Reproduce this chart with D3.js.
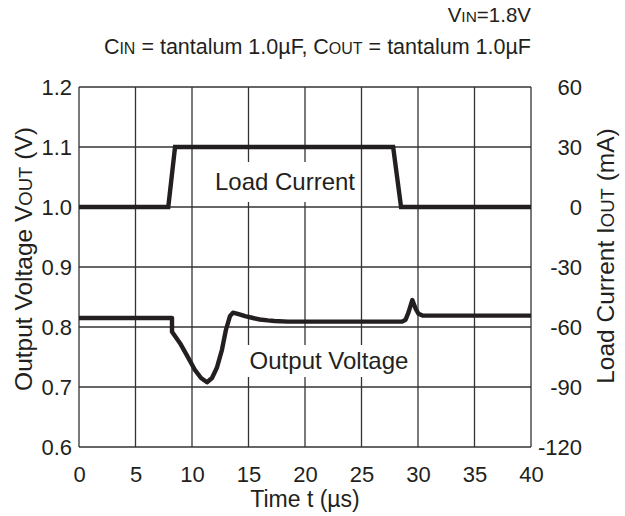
<!DOCTYPE html>
<html>
<head>
<meta charset="utf-8">
<script src="https://cdn.jsdelivr.net/npm/d3@7"></script>
<style>
  html, body { margin: 0; padding: 0; background: #fff; }
  svg text { font-family: "Liberation Sans", Arial, sans-serif; fill: #231f20; }
</style>
</head>
<body>
<svg id="chart" width="625" height="516"></svg>
<script>
// Time ticks (µs) and axis ticks
const timeTicks = [0, 5, 10, 15, 20, 25, 30, 35, 40];
const voltTicks = [0.6, 0.7, 0.8, 0.9, 1.0, 1.1, 1.2];
const currentTicks = [-120, -90, -60, -30, 0, 30, 60];

// Load current step (mA) vs time (µs)
const loadTime    = [0, 7.9, 8.5, 27.8, 28.5, 40];
const loadCurrent = [0, 0,   30,  30,   0,    0];

// Output voltage (V) vs time (µs)
const voutTime = [0, 8.23, 8.23, 8.94, 9.6, 10.27, 10.8, 11.33, 11.77, 12.2, 12.65, 13.0, 13.36, 13.63,
                  14.2, 14.7, 15.4, 16.0, 16.7, 17.3, 18.5, 28.6, 28.9, 29.15, 29.5, 29.8, 30.05, 30.4, 31.0, 40];
const voutValue = [0.815, 0.815, 0.792, 0.773, 0.751, 0.728, 0.715, 0.708, 0.715, 0.732, 0.762, 0.795, 0.818, 0.824,
                   0.821, 0.818, 0.815, 0.8125, 0.811, 0.810, 0.809, 0.809, 0.812, 0.824, 0.845, 0.83, 0.822, 0.819, 0.819, 0.819];

const svg = d3.select("#chart");
const M = { left: 79, right: 531, top: 87, bottom: 447 };

const x = d3.scaleLinear().domain([0, 40]).range([M.left, M.right]);
const yV = d3.scaleLinear().domain([0.6, 1.2]).range([M.bottom, M.top]);
const yI = d3.scaleLinear().domain([-120, 60]).range([M.bottom, M.top]);

const ink = "#231f20";
const tickFont = 22;

// Grid and frame
const grid = svg.append("g").attr("stroke", "#333").attr("stroke-width", 1.3);
grid.selectAll("line.v").data(timeTicks).join("line")
  .attr("x1", d => x(d)).attr("x2", d => x(d))
  .attr("y1", M.top).attr("y2", M.bottom);
grid.selectAll("line.h").data(voltTicks).join("line")
  .attr("x1", M.left).attr("x2", M.right)
  .attr("y1", d => yV(d)).attr("y2", d => yV(d));

// Axes (labels only; the frame comes from the grid)
const axL = d3.axisLeft(yV).tickValues(voltTicks).tickFormat(d3.format(".1f")).tickSize(0).tickPadding(7);
const axR = d3.axisRight(yI).tickValues(currentTicks).tickFormat(d => String(d)).tickSize(0).tickPadding(0);
const axB = d3.axisBottom(x).tickValues(timeTicks).tickFormat(d => String(d)).tickSize(0).tickPadding(19);

function styleAxis(g) {
  g.select(".domain").remove();
  g.selectAll("text").attr("font-size", tickFont).attr("fill", ink)
    .style("font-family", "'Liberation Sans', Arial, sans-serif");
}
svg.append("g").attr("transform", `translate(${M.left},0)`).call(axL).call(styleAxis);
svg.append("g").attr("transform", `translate(582,0)`).call(axR).call(styleAxis)
  .selectAll("text").attr("text-anchor", "end");
svg.append("g").attr("transform", `translate(0,${M.bottom})`).call(axB).call(styleAxis);

// In-plot labels with white backing
function plotLabel(text, cx, cy, w, h) {
  svg.append("rect").attr("x", cx - w / 2).attr("y", cy - h / 2)
    .attr("width", w).attr("height", h).attr("fill", "#fff");
  svg.append("text").attr("x", cx).attr("y", cy).attr("dy", "0.35em")
    .attr("text-anchor", "middle").attr("font-size", 24).text(text);
}
plotLabel("Load Current", 285, 182, 148, 40);
plotLabel("Output Voltage", 329, 361, 168, 32);

// Traces
const lineI = d3.line().x((d, i) => x(loadTime[i])).y(d => yI(d));
const lineV = d3.line().x((d, i) => x(voutTime[i])).y(d => yV(d));

svg.append("path").datum(loadCurrent).attr("d", lineI)
  .attr("fill", "none").attr("stroke", ink).attr("stroke-width", 4.4).attr("stroke-linejoin", "miter");
svg.append("path").datum(voutValue).attr("d", lineV)
  .attr("fill", "none").attr("stroke", ink).attr("stroke-width", 4.4).attr("stroke-linejoin", "round");

// Axis titles
svg.append("text").attr("transform", `translate(32,259) rotate(-90)`)
  .attr("text-anchor", "middle").attr("font-size", 24.5)
  .html('Output Voltage V<tspan font-size="18.5">OUT</tspan> (V)');
svg.append("text").attr("transform", `translate(614,256) rotate(-90)`)
  .attr("text-anchor", "middle").attr("font-size", 24.5)
  .html('Load Current I<tspan font-size="18.5">OUT</tspan> (mA)');
svg.append("text").attr("x", (M.left + M.right) / 2).attr("y", 507)
  .attr("text-anchor", "middle").attr("font-size", 23).text("Time t (µs)");

// Conditions
svg.append("text").attr("x", 531).attr("y", 22).attr("text-anchor", "end").attr("font-size", 20.5)
  .html('V<tspan font-size="15.5">IN</tspan>=1.8V');
svg.append("text").attr("x", 531).attr("y", 54).attr("text-anchor", "end").attr("font-size", 21.5)
  .html('C<tspan font-size="16">IN</tspan> = tantalum 1.0µF, C<tspan font-size="16">OUT</tspan> = tantalum 1.0µF');
</script>
</body>
</html>
